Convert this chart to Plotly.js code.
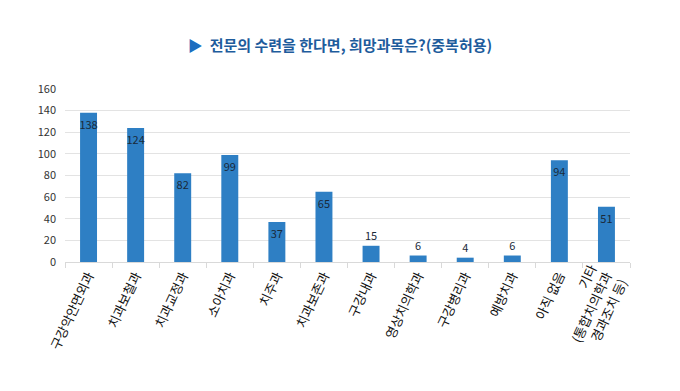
<!DOCTYPE html>
<html>
<head>
<meta charset="utf-8">
<script src="https://cdn.plot.ly/plotly-3.0.1.min.js"></script>
<style>html,body{margin:0;padding:0;background:#fff;}#chart{width:680px;height:391px;}</style>
</head>
<body>
<div id="chart"></div>
<script>
const categories = ['구강악안면외과','치과보철과','치과교정과','소아치과','치주과','치과보존과','구강내과','영상치의학과','구강병리과','예방치과','아직 없음','기타<br>(통합치의학과<br>경과조치 등)'];
const values = [138,124,82,99,37,65,15,6,4,6,94,51];
const yTicks = [0,20,40,60,80,100,120,140,160];
const titleText = '<span style="color:#1B6EC0">▶</span>  전문의 수련을 한다면, 희망과목은?(중복허용)';

const trace = {
  type: 'bar',
  x: categories,
  y: values,
  marker: {color: '#2E7FC4'},
  text: values.map(String),
  textposition: values.map(v => v >= 20 ? 'inside' : 'outside'),
  insidetextanchor: 'end',
  textangle: 0,
  constraintext: 'none',
  cliponaxis: false,
  textfont: {family: 'Noto Sans CJK KR, sans-serif', size: 11, color: '#1a2a3a'},
  hoverinfo: 'none'
};

const layout = {
  width: 680, height: 391,
  margin: {l: 65, r: 50, t: 89, b: 129},
  paper_bgcolor: '#fff', plot_bgcolor: '#fff',
  bargap: 0.64,
  showlegend: false,
  title: {
    text: titleText,
    x: 0.5, xanchor: 'center', y: 0.883, yanchor: 'middle',
    font: {family: 'Noto Sans CJK KR, sans-serif', size: 15, color: '#1E5C9C', weight: 'bold'}
  },
  xaxis: {
    type: 'category',
    tickangle: -65,
    tickfont: {family: 'Noto Sans CJK KR, sans-serif', size: 13, color: '#111'},
    showline: true, linecolor: '#d9d9d9', linewidth: 1,
    ticks: 'outside', tickson: 'boundaries', ticklen: 5, tickcolor: '#d9d9d9',
    showgrid: false, automargin: false
  },
  yaxis: {
    range: [0, 160],
    tickvals: yTicks,
    ticktext: yTicks.map(String),
    tickfont: {family: 'Noto Sans CJK KR, sans-serif', size: 11, color: '#333'},
    showgrid: true, gridcolor: '#e3e3e3', gridwidth: 1,
    zeroline: false, showline: false, ticks: '',
    ticklabelstandoff: 8,
    automargin: false
  },
  font: {family: 'Noto Sans CJK KR, sans-serif'}
};

Plotly.newPlot('chart', [trace], layout, {displayModeBar: false, staticPlot: true});
</script>
</body>
</html>
